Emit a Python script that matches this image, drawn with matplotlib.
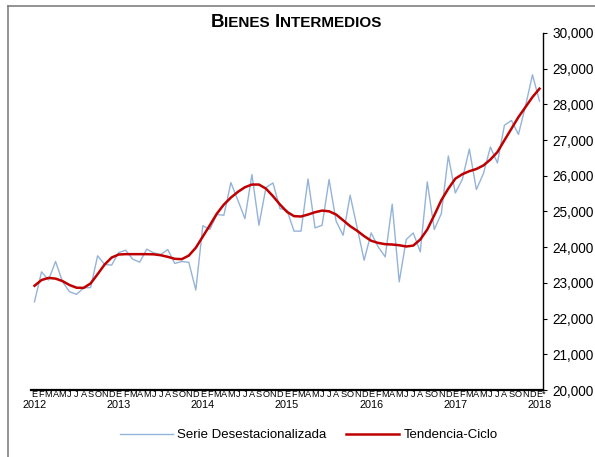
import numpy as np
import matplotlib.pyplot as plt
import matplotlib.transforms as mtransforms
from matplotlib.lines import Line2D
from matplotlib.offsetbox import TextArea, HPacker, AnchoredOffsetbox

plt.rcParams['font.family'] = ['Liberation Sans', 'DejaVu Sans']

blue = '#95B3D7'
red = '#C00000'

## Data ##
months = ['E', 'F', 'M', 'A', 'M', 'J', 'J', 'A', 'S', 'O', 'N', 'D']
years = ['2012', '2013', '2014', '2015', '2016', '2017', '2018']
month_labels = months * 6 + ['E*']

# Serie desestacionalizada, ene-2012 .. ene-2018
serie = [22470, 23310, 23080, 23600, 23030, 22750, 22680, 22860, 22870, 23760, 23515, 23500,
         23850, 23915, 23665, 23580, 23945, 23840, 23795, 23935, 23545, 23600, 23575, 22800,
         24600, 24500, 24915, 24895, 25810, 25315, 24800, 26035, 24615, 25670, 25800, 25080,
         25035, 24450, 24450, 25910, 24540, 24615, 25895, 24730, 24335, 25455, 24550, 23635,
         24400, 24010, 23730, 25205, 23030, 24215, 24400, 23870, 25830, 24495, 24940, 26555,
         25520, 25900, 26750, 25615, 26060, 26805, 26360, 27415, 27550, 27160, 27950, 28830,
         28095]

# Tendencia-ciclo
tendencia = [22920, 23080, 23140, 23120, 23050, 22940, 22865, 22860, 22985, 23245, 23515, 23710,
             23795, 23805, 23805, 23805, 23805, 23800, 23775, 23730, 23675, 23665, 23765, 23985,
             24300, 24615, 24940, 25195, 25390, 25550, 25680, 25755, 25755, 25640, 25430, 25195,
             24990, 24870, 24860, 24915, 24980, 25025, 25005, 24915, 24755, 24590, 24460, 24310,
             24180, 24120, 24085, 24075, 24055, 24020, 24045, 24215, 24495, 24895, 25315, 25640,
             25920, 26045, 26130, 26190, 26290, 26455, 26665, 26995, 27320, 27645, 27925, 28205,
             28440]

x = np.arange(len(serie))

## Plot ##
fig = plt.figure(figsize=(5.95, 4.57), dpi=100, facecolor='white')
ax = fig.add_axes([31/595, 67/457, 512/595, 357/457])

ax.plot(x, serie, color=blue, linewidth=1.0, label='Serie Desestacionalizada')
ax.plot(x, tendencia, color=red, linewidth=1.8, label='Tendencia-Ciclo')

# Axes settings
ax.set_xlim(-0.5, len(x) - 0.5)
ax.set_ylim(20000, 30000)
ax.yaxis.tick_right()
ax.set_yticks(np.arange(20000, 30001, 1000))
ax.yaxis.set_major_formatter(lambda v, p: f'{v:,.0f}')
ax.tick_params(axis='y', direction='out', length=3, width=0.8, pad=4, labelsize=9.8, colors='black')

ax.set_xticks(x)
ax.set_xticklabels(month_labels)
ax.tick_params(axis='x', length=0, pad=0.3, labelsize=6.6)

# last label (E*): keep the E on its month, asterisk hangs to the right
last = ax.get_xticklabels()[-1]
last.set_horizontalalignment('left')
last.set_transform(last.get_transform() + mtransforms.ScaledTranslation(-3/100, 0, fig.dpi_scale_trans))

for side in ['top', 'left']:
    ax.spines[side].set_visible(False)
ax.spines['right'].set_linewidth(1.0)
ax.spines['bottom'].set_linewidth(1.6)

# Years under the months
for k, yr in enumerate(years):
    ax.text(12 * k, -0.029, yr, transform=ax.get_xaxis_transform(),
            ha='center', va='top', fontsize=7.8)

# Title in small caps
big = dict(size=13.5, weight='bold')
small = dict(size=11, weight='bold')
parts = [TextArea('B', textprops=big), TextArea('IENES ', textprops=small),
         TextArea('I', textprops=big), TextArea('NTERMEDIOS', textprops=small)]
title = HPacker(children=parts, align='baseline', pad=0, sep=0)
anchored = AnchoredOffsetbox(loc='lower center', child=title, pad=0, borderpad=0, frameon=False,
                             bbox_to_anchor=(296/595, 1 - 31/457), bbox_transform=fig.transFigure)
fig.add_artist(anchored)

# Legend
fig.legend(loc='center', bbox_to_anchor=(309/595, 1 - 435/457), ncol=2, frameon=False,
           fontsize=9.5, handlelength=4, handletextpad=0.35, columnspacing=1.5)

# Outer frame (top and left edges only visible)
x0 = 7.5/595
y0 = 1 - 6/457
fig.add_artist(Line2D([x0, x0], [0, y0], color='#808080', linewidth=1.2, transform=fig.transFigure))
fig.add_artist(Line2D([x0, 1], [y0, y0], color='#808080', linewidth=1.2, transform=fig.transFigure))

plt.savefig('out.png', dpi=100)
